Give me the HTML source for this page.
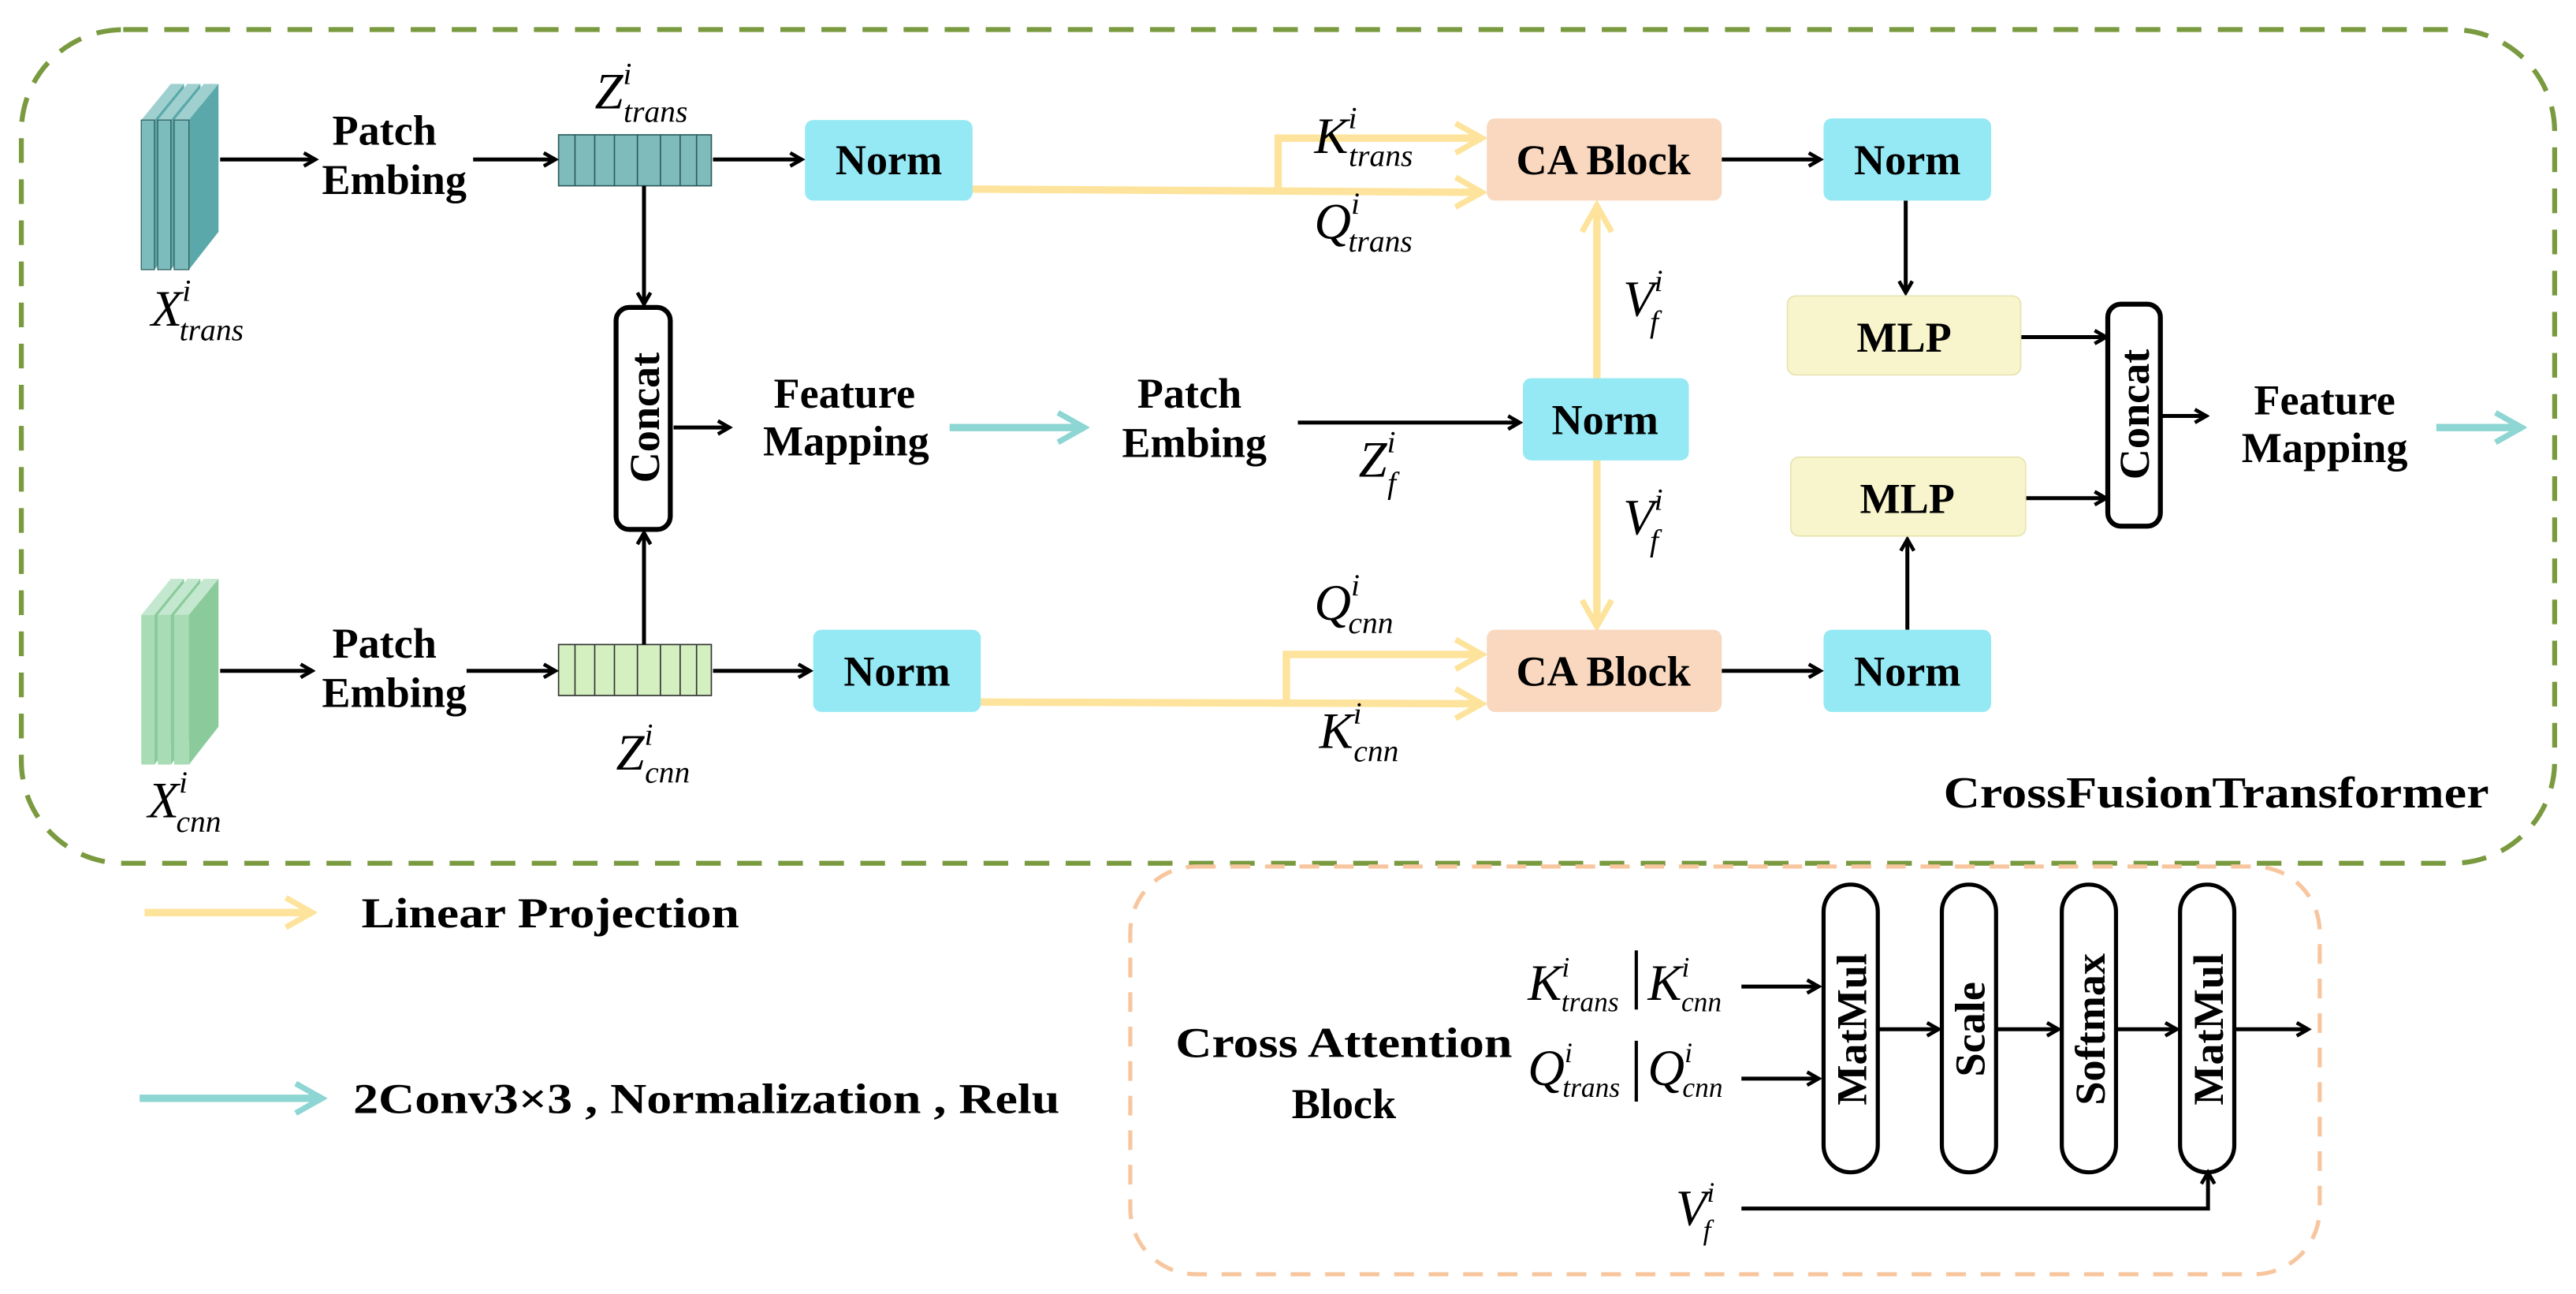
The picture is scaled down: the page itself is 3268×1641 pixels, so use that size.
<!DOCTYPE html>
<html><head><meta charset="utf-8"><style>
html,body{margin:0;padding:0;background:#fff;}
svg{display:block;}
text{font-family:"Liberation Serif",serif;}
.b{font-weight:bold;font-size:26px;}
.m{font-style:italic;font-size:31px;}
</style></head><body>
<svg width="3268" height="1641" viewBox="0 0 1568 787" preserveAspectRatio="none" xmlns="http://www.w3.org/2000/svg">
<defs>
<marker id="ab" markerWidth="10" markerHeight="10" refX="8" refY="5" orient="auto" markerUnits="userSpaceOnUse"><path d="M1,1 L8,5 L1,9" fill="none" stroke="#000" stroke-width="2.2"/></marker>
<marker id="ay" markerWidth="22" markerHeight="22" refX="19" refY="11" orient="auto" markerUnits="userSpaceOnUse"><path d="M3,2 L19,11 L3,20" fill="none" stroke="#fde39b" stroke-width="3.5"/></marker>
<marker id="at" markerWidth="22" markerHeight="22" refX="19" refY="11" orient="auto" markerUnits="userSpaceOnUse"><path d="M3,2 L19,11 L3,20" fill="none" stroke="#8dd6d3" stroke-width="3.5"/></marker>
</defs>

<rect x="13" y="18" width="1542" height="507" rx="62" fill="none" stroke="#7a9a3f" stroke-width="3" stroke-dasharray="15 10"/>
<rect x="688" y="527" width="724" height="248" rx="40" fill="none" stroke="#f8c69e" stroke-width="2.5" stroke-dasharray="12 9"/>

<g>
<polygon points="86,73 104,51 112,51 94,73" fill="#9fd0cf"/><polygon points="94,73 112,51 112,141 94,164" fill="#5aa8aa"/><rect x="86" y="73" width="8" height="91" fill="#7dbcbc" stroke="#2c5c5c" stroke-width="0.6"/>
<polygon points="96,73 114,51 122,51 104,73" fill="#9fd0cf"/><polygon points="104,73 122,51 122,141 104,164" fill="#5aa8aa"/><rect x="96" y="73" width="8" height="91" fill="#7dbcbc" stroke="#2c5c5c" stroke-width="0.6"/>
<polygon points="106,73 124,51 133,51 115,73" fill="#9fd0cf"/><polygon points="115,73 133,51 133,141 115,164" fill="#5aa8aa"/><rect x="106" y="73" width="9" height="91" fill="#7dbcbc" stroke="#2c5c5c" stroke-width="0.6"/>
</g>
<g transform="translate(0,301)">
<polygon points="86,73 104,51 112,51 94,73" fill="#c4e8cf"/><polygon points="94,73 112,51 112,141 94,164" fill="#8bcb9b"/><rect x="86" y="73" width="8" height="91" fill="#a8dcb4"/>
<polygon points="96,73 114,51 122,51 104,73" fill="#c4e8cf"/><polygon points="104,73 122,51 122,141 104,164" fill="#8bcb9b"/><rect x="96" y="73" width="8" height="91" fill="#a8dcb4"/>
<polygon points="106,73 124,51 133,51 115,73" fill="#c4e8cf"/><polygon points="115,73 133,51 133,141 115,164" fill="#8bcb9b"/><rect x="106" y="73" width="9" height="91" fill="#a8dcb4"/>
</g>
<text class="m" x="92" y="198" font-style="normal" font-size="33">X<tspan font-size="19" font-style="italic" dy="-15">i</tspan><tspan font-size="19" font-style="italic" dx="-7" dy="24">trans</tspan></text>
<text class="m" x="90" y="497" font-style="normal" font-size="33">X<tspan font-size="19" font-style="italic" dy="-15">i</tspan><tspan font-size="19" font-style="italic" dx="-7" dy="24">cnn</tspan></text>

<rect x="340" y="82" width="93" height="31" fill="#80bbbb" stroke="#2c5c5c" stroke-width="0.8"/>
<path d="M350,82v31M362,82v31M374,82v31M388,82v31M402,82v31M414,82v31M424,82v31" stroke="#2c5c5c" stroke-width="0.8"/>
<rect x="340" y="392" width="93" height="31" fill="#d5f0c0" stroke="#333" stroke-width="0.8"/>
<path d="M350,392v31M362,392v31M374,392v31M388,392v31M402,392v31M414,392v31M424,392v31" stroke="#333" stroke-width="0.8"/>
<text class="m" x="362" y="66">Z<tspan font-size="19" dy="-15">i</tspan><tspan font-size="19" dx="-5" dy="23">trans</tspan></text>
<text class="m" x="375" y="468">Z<tspan font-size="19" dy="-15">i</tspan><tspan font-size="19" dx="-5" dy="23">cnn</tspan></text>

<g class="b" text-anchor="middle">
<text x="234" y="88">Patch</text><text x="240" y="118">Embing</text>
<text x="234" y="400">Patch</text><text x="240" y="430">Embing</text>
<text x="724" y="248">Patch</text><text x="727" y="278">Embing</text>
<text x="514" y="248">Feature</text><text x="515" y="277">Mapping</text>
<text x="1415" y="252">Feature</text><text x="1415" y="281">Mapping</text>
</g>

<g stroke="#000" stroke-width="2.4" fill="none" marker-end="url(#ab)">
<line x1="134" y1="97" x2="192" y2="97"/>
<line x1="288" y1="97" x2="338" y2="97"/>
<line x1="434" y1="97" x2="488" y2="97"/>
<line x1="134" y1="408" x2="190" y2="408"/>
<line x1="284" y1="408" x2="338" y2="408"/>
<line x1="434" y1="408" x2="493" y2="408"/>
<line x1="392" y1="113" x2="392" y2="185"/>
<line x1="392" y1="392" x2="392" y2="324"/>
<line x1="410" y1="260" x2="444" y2="260"/>
<line x1="790" y1="257" x2="925" y2="257"/>
<line x1="1048" y1="97" x2="1108" y2="97"/>
<line x1="1048" y1="408" x2="1108" y2="408"/>
<line x1="1160" y1="122" x2="1160" y2="178"/>
<line x1="1161" y1="383" x2="1161" y2="328"/>
<line x1="1230" y1="205" x2="1282" y2="205"/>
<line x1="1233" y1="303" x2="1282" y2="303"/>
<line x1="1315" y1="253" x2="1343" y2="253"/>
</g>

<rect x="375" y="187" width="33" height="135" rx="8" fill="#fff" stroke="#000" stroke-width="3"/>
<text class="b" transform="translate(401,254) rotate(-90)" text-anchor="middle">Concat</text>
<rect x="1283" y="185" width="32" height="135" rx="8" fill="#fff" stroke="#000" stroke-width="3"/>
<text class="b" transform="translate(1308,252) rotate(-90)" text-anchor="middle">Concat</text>

<g stroke="#fde39b" stroke-width="4.5" fill="none">
<polyline points="592,115 902,117" marker-end="url(#ay)"/>
<polyline points="778,115 778,84 902,84" marker-end="url(#ay)"/>
<polyline points="597,427 902,428" marker-end="url(#ay)"/>
<polyline points="783,428 783,398 902,398" marker-end="url(#ay)"/>
<line x1="972" y1="230" x2="972" y2="125" marker-end="url(#ay)"/>
<line x1="972" y1="280" x2="972" y2="381" marker-end="url(#ay)"/>
<line x1="88" y1="555" x2="190" y2="555" marker-end="url(#ay)"/>
</g>
<g stroke="#8dd6d3" stroke-width="4.5" fill="none">
<line x1="578" y1="260" x2="660" y2="260" marker-end="url(#at)"/>
<line x1="1483" y1="260" x2="1535" y2="260" marker-end="url(#at)"/>
<line x1="85" y1="668" x2="196" y2="668" marker-end="url(#at)"/>
</g>

<g>
<rect x="490" y="73" width="102" height="49" rx="5" fill="#94e9f4"/>
<rect x="495" y="383" width="102" height="50" rx="5" fill="#94e9f4"/>
<rect x="905" y="72" width="143" height="50" rx="5" fill="#f9d8bf"/>
<rect x="905" y="383" width="143" height="50" rx="5" fill="#f9d8bf"/>
<rect x="1110" y="72" width="102" height="50" rx="5" fill="#94e9f4"/>
<rect x="1110" y="383" width="102" height="50" rx="5" fill="#94e9f4"/>
<rect x="927" y="230" width="101" height="50" rx="5" fill="#94e9f4"/>
<rect x="1088" y="180" width="142" height="48" rx="5" fill="#f8f5cc" stroke="#e6e3b0" stroke-width="0.8"/>
<rect x="1090" y="278" width="143" height="48" rx="5" fill="#f8f5cc" stroke="#e6e3b0" stroke-width="0.8"/>
</g>
<g class="b" text-anchor="middle">
<text x="541" y="106">Norm</text><text x="546" y="417">Norm</text>
<text x="976" y="106">CA Block</text><text x="976" y="417">CA Block</text>
<text x="1161" y="106">Norm</text><text x="1161" y="417">Norm</text>
<text x="977" y="264">Norm</text>
<text x="1159" y="214">MLP</text><text x="1161" y="312">MLP</text>
<text x="1349" y="491" font-size="27" textLength="332" lengthAdjust="spacingAndGlyphs">CrossFusionTransformer</text>
</g>

<text class="m" x="800" y="93">K<tspan font-size="19" dy="-15">i</tspan><tspan font-size="19" dx="-5" dy="23">trans</tspan></text>
<text class="m" x="800" y="145">Q<tspan font-size="19" dy="-15">i</tspan><tspan font-size="19" dx="-7" dy="23">trans</tspan></text>
<text class="m" x="800" y="377">Q<tspan font-size="19" dy="-15">i</tspan><tspan font-size="19" dx="-7" dy="23">cnn</tspan></text>
<text class="m" x="803" y="455">K<tspan font-size="19" dy="-15">i</tspan><tspan font-size="19" dx="-5" dy="23">cnn</tspan></text>
<text class="m" x="988" y="192">V<tspan font-size="19" dy="-15">i</tspan><tspan font-size="19" dx="-8" dy="25">f</tspan></text>
<text class="m" x="988" y="325">V<tspan font-size="19" dy="-15">i</tspan><tspan font-size="19" dx="-8" dy="25">f</tspan></text>
<text class="m" x="827" y="290">Z<tspan font-size="19" dy="-15">i</tspan><tspan font-size="19" dx="-5" dy="25">f</tspan></text>

<text class="b" x="220" y="564" font-size="27" textLength="230" lengthAdjust="spacingAndGlyphs">Linear Projection</text>
<text class="b" x="215" y="677" font-size="27" textLength="430" lengthAdjust="spacingAndGlyphs">2Conv3×3 , Normalization , Relu</text>

<g class="b" text-anchor="middle" font-size="28"><text x="818" y="643" textLength="205" lengthAdjust="spacingAndGlyphs">Cross Attention</text><text x="818" y="680">Block</text></g>
<g fill="#fff" stroke="#000" stroke-width="2.5">
<rect x="1110" y="538" width="33" height="175" rx="16.5"/>
<rect x="1182" y="538" width="33" height="175" rx="16.5"/>
<rect x="1255" y="538" width="33" height="175" rx="16.5"/>
<rect x="1327" y="538" width="33" height="175" rx="16.5"/>
</g>
<g class="b" text-anchor="middle" font-size="27">
<text transform="translate(1136,626) rotate(-90)">MatMul</text>
<text transform="translate(1208,626) rotate(-90)">Scale</text>
<text transform="translate(1281,626) rotate(-90)">Softmax</text>
<text transform="translate(1353,626) rotate(-90)">MatMul</text>
</g>
<g stroke="#000" stroke-width="2.4" fill="none" marker-end="url(#ab)">
<line x1="1060" y1="600" x2="1107" y2="600"/>
<line x1="1060" y1="656" x2="1107" y2="656"/>
<line x1="1143" y1="626" x2="1180" y2="626"/>
<line x1="1215" y1="626" x2="1253" y2="626"/>
<line x1="1288" y1="626" x2="1325" y2="626"/>
<line x1="1360" y1="626" x2="1405" y2="626"/>
<polyline points="1060,735 1344,735 1344,713"/>
</g>
<text class="m" x="930" y="608" font-size="30">K<tspan font-size="17" dy="-14">i</tspan><tspan font-size="17" dx="-5" dy="21">trans</tspan></text>
<line x1="996" y1="578" x2="996" y2="614" stroke="#000" stroke-width="2"/>
<text class="m" x="1003" y="608" font-size="30">K<tspan font-size="17" dy="-14">i</tspan><tspan font-size="17" dx="-5" dy="21">cnn</tspan></text>
<text class="m" x="930" y="660" font-size="30">Q<tspan font-size="17" dy="-14">i</tspan><tspan font-size="17" dx="-6" dy="21">trans</tspan></text>
<line x1="996" y1="633" x2="996" y2="670" stroke="#000" stroke-width="2"/>
<text class="m" x="1003" y="660" font-size="30">Q<tspan font-size="17" dy="-14">i</tspan><tspan font-size="17" dx="-6" dy="21">cnn</tspan></text>
<text class="m" x="1020" y="745" font-size="30">V<tspan font-size="17" dy="-14">i</tspan><tspan font-size="17" dx="-7" dy="23">f</tspan></text>
</svg>
</body></html>
